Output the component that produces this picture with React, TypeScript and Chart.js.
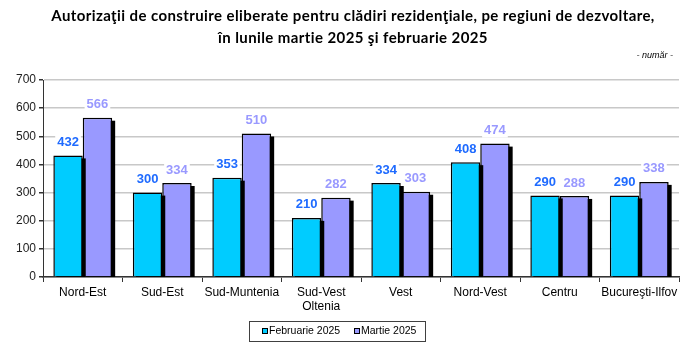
import React, { useEffect, useRef } from "react";
import { Chart, registerables } from "chart.js";

Chart.register(...registerables);

const categories: (string | string[])[] = [
  "Nord-Est",
  "Sud-Est",
  "Sud-Muntenia",
  ["Sud-Vest", "Oltenia"],
  "Vest",
  "Nord-Vest",
  "Centru",
  "Bucureşti-Ilfov",
];
const februarie2025 = [432, 300, 353, 210, 334, 408, 290, 290];
const martie2025 = [566, 334, 510, 282, 303, 474, 288, 338];
const seriesNames = ["Februarie 2025", "Martie 2025"];
const titleLines = [
  "Autorizaţii de construire eliberate pentru clădiri rezidenţiale, pe regiuni de dezvoltare,",
  "în lunile martie 2025 şi februarie 2025",
];
const unitLabel = "- număr -";

const barColors = ["#00CCFF", "#9999FF"];
const labelColors = ["#1F6BFF", "#9999FF"];

const shadowPlugin = {
  id: "barShadow",
  beforeDatasetDraw(chart: any, args: any) {
    const ctx = chart.ctx;
    const meta = chart.getDatasetMeta(args.index);
    const area = chart.chartArea;
    ctx.save();
    ctx.beginPath();
    ctx.rect(area.left, area.top, area.right - area.left + 5, area.bottom - area.top);
    ctx.clip();
    ctx.fillStyle = "#000000";
    meta.data.forEach((bar: any) => {
      const p = bar.getProps(["x", "y", "base", "width"], true);
      const left = p.x - p.width / 2;
      ctx.fillRect(left + 3, p.y + 3, p.width, p.base - p.y);
    });
    ctx.restore();
  },
};

const valueLabelPlugin = {
  id: "valueLabels",
  afterDatasetsDraw(chart: any) {
    const ctx = chart.ctx;
    ctx.save();
    ctx.font = "bold 13px 'Liberation Sans', Arial, sans-serif";
    ctx.textAlign = "center";
    ctx.textBaseline = "middle";
    chart.data.datasets.forEach((ds: any, di: number) => {
      const meta = chart.getDatasetMeta(di);
      meta.data.forEach((bar: any, i: number) => {
        const txt = String(ds.data[i]);
        const w = ctx.measureText(txt).width;
        const x = bar.x;
        const y = bar.y - 13;
        ctx.fillStyle = "#ffffff";
        ctx.fillRect(x - w / 2 - 2, y - 7, w + 4, 14);
        ctx.fillStyle = labelColors[di];
        ctx.fillText(txt, x, y);
      });
    });
    ctx.restore();
  },
};

const decorPlugin = {
  id: "decor",
  afterDraw(chart: any) {
    const ctx = chart.ctx;
    ctx.save();
    // title
    ctx.fillStyle = "#000000";
    ctx.textAlign = "center";
    ctx.textBaseline = "middle";
    ctx.font = "bold 15px Lato, sans-serif";
    try {
      (ctx as any).letterSpacing = "0.4px";
    } catch (e) {}
    ctx.fillText(titleLines[0], 353, 16);
    ctx.fillText(titleLines[1], 353, 38);
    try {
      (ctx as any).letterSpacing = "0px";
    } catch (e) {}
    // unit
    ctx.font = "italic 9px 'Liberation Sans', Arial, sans-serif";
    ctx.textAlign = "right";
    ctx.fillText(unitLabel, 673, 55);
    // legend
    const lx = 249, ly = 321, lw = 176, lh = 20;
    ctx.strokeStyle = "#404040";
    ctx.lineWidth = 1;
    ctx.strokeRect(lx + 0.5, ly + 0.5, lw, lh);
    ctx.font = "10.5px 'Liberation Sans', Arial, sans-serif";
    ctx.textAlign = "left";
    ctx.textBaseline = "middle";
    const items = [
      { x: 262, name: chart.data.datasets[0].label, color: barColors[0] },
      { x: 354, name: chart.data.datasets[1].label, color: barColors[1] },
    ];
    items.forEach((it) => {
      ctx.fillStyle = "#000";
      ctx.fillRect(it.x, 328, 6, 6);
      ctx.fillStyle = it.color;
      ctx.fillRect(it.x + 1, 329, 4, 4);
      ctx.fillStyle = "#000";
      ctx.fillText(it.name, it.x + 7, 331.5);
    });
    ctx.restore();
  },
};

export default function App() {
  const ref = useRef<HTMLCanvasElement | null>(null);
  useEffect(() => {
    if (!ref.current) return;
    const chart = new Chart(ref.current, {
      type: "bar",
      data: {
        labels: categories,
        datasets: [
          {
            label: seriesNames[0],
            data: februarie2025,
            backgroundColor: barColors[0],
            borderColor: "#000000",
            borderWidth: 1.5,
            categoryPercentage: 0.74,
            barPercentage: 1,
          },
          {
            label: seriesNames[1],
            data: martie2025,
            backgroundColor: barColors[1],
            borderColor: "#000000",
            borderWidth: 1.5,
            categoryPercentage: 0.74,
            barPercentage: 1,
          },
        ],
      },
      options: {
        animation: false,
        responsive: false,
        maintainAspectRatio: false,
        layout: { padding: { left: 0, right: 19, top: 80, bottom: 23 } },
        plugins: {
          legend: { display: false },
          title: { display: false },
          tooltip: { enabled: false },
        },
        scales: {
          x: {
            grid: {
              display: true,
              drawOnChartArea: false,
              drawTicks: true,
              tickLength: 5,
              color: "#333333",
              offset: true,
            },
            border: { display: true, color: "#333333", width: 1.5 },
            ticks: {
              color: "#000000",
              padding: 3,
              maxRotation: 0,
              autoSkip: false,
              font: { family: "'Liberation Sans', Arial, sans-serif", size: 12 },
            },
            afterFit(scale: any) {
              scale.height = 44;
            },
          },
          y: {
            min: 0,
            max: 700,
            ticks: {
              stepSize: 100,
              color: "#222222",
              padding: 3,
              font: { family: "'Liberation Sans', Arial, sans-serif", size: 12 },
            },
            grid: {
              color: "#C8C8C8",
              lineWidth: 1.5,
              tickLength: 4,
              tickColor: "#333333",
            },
            border: { display: true, color: "#333333", width: 1 },
            afterFit(scale: any) {
              scale.width = 43;
            },
          },
        },
      },
      plugins: [shadowPlugin, valueLabelPlugin, decorPlugin],
    });
    return () => chart.destroy();
  }, []);
  return (
    <div style={{ position: "absolute", left: 0, top: 0, width: 698, height: 344, background: "#fff" }}>
      <canvas ref={ref} width={698} height={344} />
    </div>
  );
}
